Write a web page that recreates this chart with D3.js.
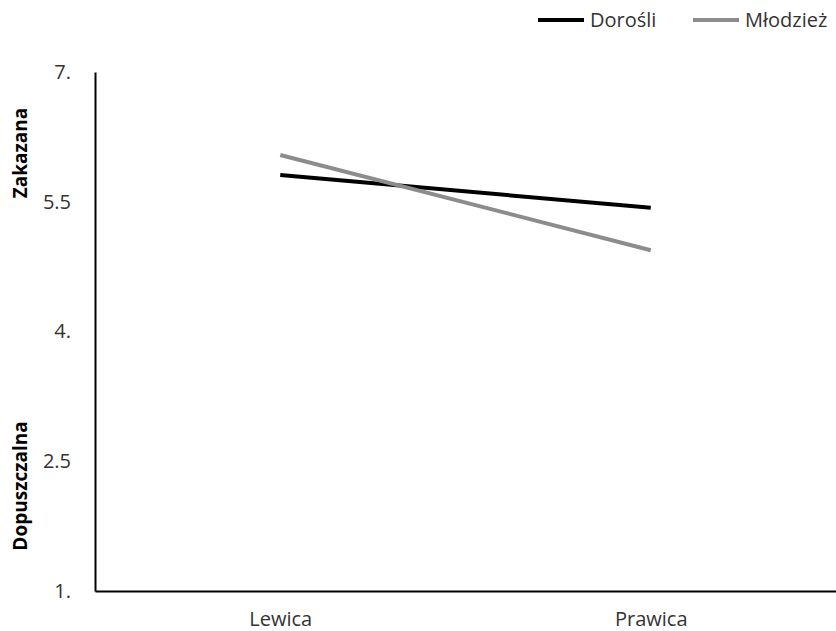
<!DOCTYPE html>
<html><head><meta charset="utf-8">
<script src="https://cdn.jsdelivr.net/npm/d3@7"></script>
<style>body{margin:0;background:#fff}svg{display:block;font-family:"Open Sans",Calibri,sans-serif}</style>
</head><body><svg id="c" width="836" height="631"></svg>
<script>
const categories = ["Lewica", "Prawica"];
const seriesNames = ["Dorośli", "Młodzież"];
const doroslaValues = [5.81, 5.43];
const mlodziezValues = [6.04, 4.94];
const tickValues = [1, 2.5, 4, 5.5, 7];
const tickLabels = ["1.", "2.5", "4.", "5.5", "7."];
const colors = ["#000000", "#8c8c8c"];

const svg = d3.select("#c");
const x = d3.scalePoint().domain(categories).range([95, 836]).padding(0.5);
const y = d3.scaleLinear().domain([1, 7]).range([591, 72]);

const series = [
  {name: seriesNames[0], values: doroslaValues, color: colors[0]},
  {name: seriesNames[1], values: mlodziezValues, color: colors[1]}
];

const fs = 20;

// y axis
const yAxis = d3.axisLeft(y).tickValues(tickValues).tickSize(0).tickPadding(24)
  .tickFormat((d, i) => tickLabels[i]);
const gy = svg.append("g").attr("transform", "translate(95,0)").call(yAxis);
gy.select(".domain").attr("stroke", "#000").attr("stroke-width", 2);
gy.selectAll("text").attr("font-size", fs).attr("fill", "#333").attr("font-family", "Open Sans, sans-serif");

// x axis
const xAxis = d3.axisBottom(x).tickSize(0).tickPadding(21);
const gx = svg.append("g").attr("transform", "translate(0,591)").call(xAxis);
gx.select(".domain").attr("stroke", "#000").attr("stroke-width", 2);
gx.selectAll("text").attr("font-size", fs).attr("fill", "#333").attr("font-family", "Open Sans, sans-serif");

// y titles
svg.append("text").attr("transform", "translate(27,153) rotate(-90)")
  .attr("text-anchor", "middle").attr("font-weight", "bold").attr("font-size", 19)
  .attr("fill", "#000").text("Zakazana");
svg.append("text").attr("transform", "translate(27,486) rotate(-90)")
  .attr("text-anchor", "middle").attr("font-weight", "bold").attr("font-size", 19)
  .attr("fill", "#000").text("Dopuszczalna");

// lines
const line = d3.line().x((d, i) => x(categories[i])).y(d => y(d));
svg.selectAll("path.series").data(series).join("path")
  .attr("class", "series")
  .attr("d", d => line(d.values))
  .attr("fill", "none").attr("stroke", d => d.color).attr("stroke-width", 4);

// legend
const legendX = [538, 693];
const lg = svg.selectAll("g.leg").data(series).join("g")
  .attr("class", "leg").attr("transform", (d, i) => `translate(${legendX[i]},20)`);
lg.append("line").attr("x1", 0).attr("x2", 46).attr("y1", 0).attr("y2", 0)
  .attr("stroke", d => d.color).attr("stroke-width", 4);
lg.append("text").attr("x", 52).attr("y", 0).attr("dy", "0.35em")
  .attr("font-size", fs).attr("fill", "#333").text(d => d.name);
</script></body></html>
